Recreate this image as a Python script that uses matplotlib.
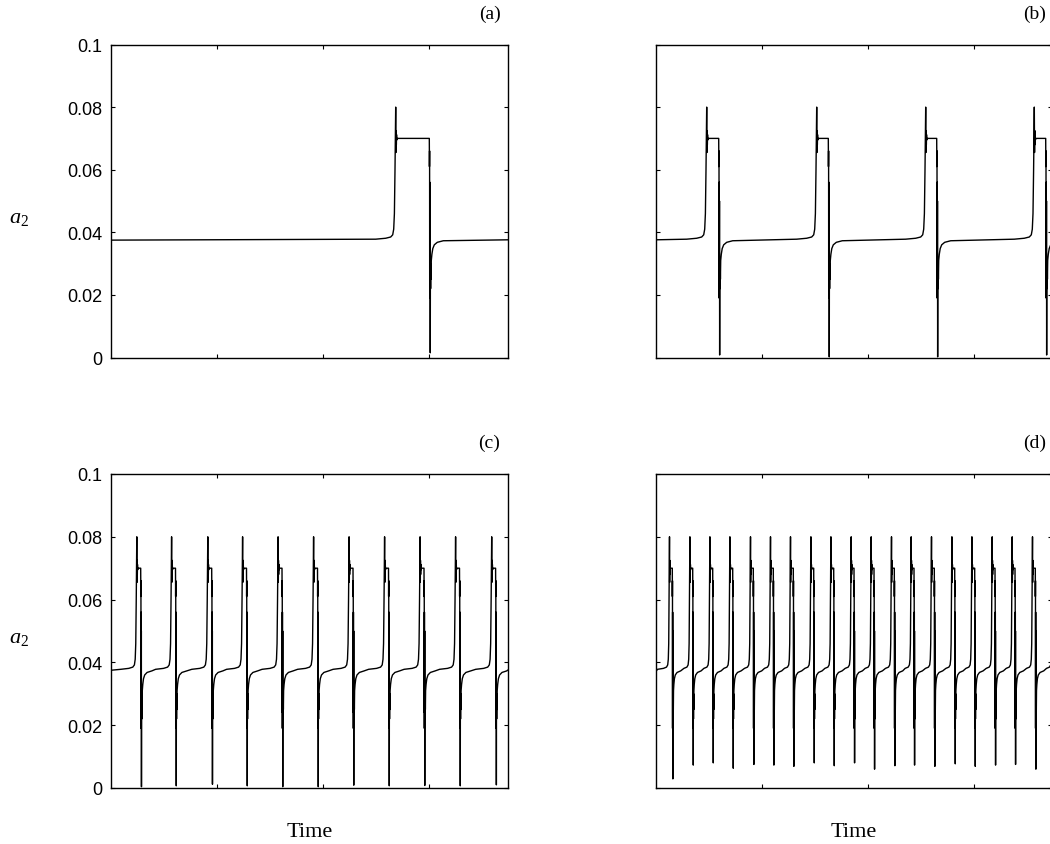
import matplotlib
matplotlib.use("Agg")
import matplotlib.pyplot as plt

plt.rcParams["font.family"] = "Liberation Sans"
plt.rcParams["mathtext.fontset"] = "custom"
plt.rcParams["mathtext.it"] = "Liberation Serif:italic"
plt.rcParams["mathtext.rm"] = "Liberation Serif"

# ---------------- data ----------------
# time axis: 0 .. 396.5 (arbitrary units), ticks every 106
X_MAX = 396.5
X_TICKS = [106, 212, 318]
Y_TICKS = [0, 0.02, 0.04, 0.06, 0.08, 0.1]
Y_TICK_LABELS = ["0", "0.02", "0.04", "0.06", "0.08", "0.1"]

# shape of one burst: rise up to the spike (offsets from spike time)
RISE_DT = [-20, -10, -5, -3, -2, -1.3, -0.7, 0.0, 0.25, 0.45, 0.65, 0.85, 1.1, 1.6]
RISE_VAL = [0.0378, 0.0381, 0.0385, 0.0392, 0.0410, 0.0460, 0.0600, 0.0800,
            0.0655, 0.0725, 0.0680, 0.0712, 0.0695, 0.0700]
# drop after the plateau (offsets from drop time)
DROP_DT = [0.0, 0.15, 0.3, 0.4, 0.55, 0.65, 0.8]
DROP_VAL = [0.0700, 0.0610, 0.0660, 0.0190, 0.0560, 0.0240, 0.0500]
MIN_DT = 0.95
REC_DT = [1.1, 1.3, 1.5, 1.7, 2.0, 2.6, 3.5, 5, 8, 14]
REC_VAL = [0.0290, 0.0220, 0.0300, 0.0250, 0.0310, 0.0330, 0.0348, 0.0360, 0.0368, 0.0373]

# panel (a)
a_spikes = [284.7]
a_drops = [318.3]
a_minima = [0.0015]
# panel (b)
b_spikes = [51.0, 161.0, 270.0, 378.6]
b_drops = [63.0, 172.6, 281.0, 390.0]
b_minima = [0.0008, 0.0002, 0.0002, 0.0008]
# panel (c)
c_spikes = [25.8, 60.6, 96.8, 131.6, 167.1, 202.6, 238.1, 273.6, 309.1, 344.6, 380.7]
c_drops = [29.7, 64.5, 100.7, 135.5, 171.0, 206.5, 242.0, 277.5, 313.0, 348.5, 384.6]
c_minima = [0.0004, 0.0007, 0.0012, 0.0007, 0.0004, 0.0004, 0.0009, 0.0007, 0.0008, 0.0007, 0.0010]
# panel (d)
d_spikes = [13.8, 34.2, 54.2, 74.2, 94.8, 114.8, 134.8, 155.2, 175.2, 195.5,
            215.5, 235.8, 255.5, 275.8, 296.2, 316.2, 336.5, 356.5, 376.8, 396.8]
d_drops = [16.6, 37.0, 57.0, 77.0, 97.6, 117.6, 137.6, 158.0, 178.0, 198.3,
           218.3, 238.6, 258.3, 278.6, 299.0, 319.0, 339.3, 359.3, 379.6, 399.6]
d_minima = [0.0029, 0.0073, 0.0080, 0.0063, 0.0075, 0.0073, 0.0069, 0.0080, 0.0071, 0.0080,
            0.0060, 0.0071, 0.0073, 0.0069, 0.0077, 0.0069, 0.0073, 0.0075, 0.0060, 0.0070]

start_vals = {"a": 0.0375, "b": 0.0376, "c": 0.0375, "d": 0.0370}
end_vals = {"a": 0.0376, "b": 0.0376, "c": 0.0375, "d": 0.0400}


def build(start, end, spikes, drops, minima, scale):
    t = [0.0]
    v = [start]

    def add(tt, vv):
        if tt > t[-1]:
            t.append(tt)
            v.append(vv)

    for s, d, m in zip(spikes, drops, minima):
        for dt, val in zip(RISE_DT, RISE_VAL):
            add(s + dt * scale, val)
        for dt, val in zip(DROP_DT, DROP_VAL):
            add(d + dt * scale, val)
        add(d + MIN_DT * scale, m)
        for dt, val in zip(REC_DT, REC_VAL):
            add(d + dt * scale, val)
    add(X_MAX, end)
    return t, v


W, H = 1050, 845
fig = plt.figure(figsize=(W / 100, H / 100), dpi=100)


def px_axes(l, t, r, b):
    return fig.add_axes([l / W, 1 - b / H, (r - l) / W, (b - t) / H])


panels = [
    ("a", (111, 45.5, 507.5, 358.5), a_spikes, a_drops, a_minima, 1.0),
    ("b", (655.7, 45.5, 1052.2, 358.5), b_spikes, b_drops, b_minima, 1.0),
    ("c", (111, 475, 507.5, 789), c_spikes, c_drops, c_minima, 0.8),
    ("d", (655.7, 475, 1052.2, 789), d_spikes, d_drops, d_minima, 0.6),
]

for name, box, sp, dr, mn, sc in panels:
    ax = px_axes(*box)
    t, v = build(start_vals[name], end_vals[name], sp, dr, mn, sc)
    ax.plot(t, v, color="black", lw=1.0)
    ax.set_xlim(0, X_MAX)
    ax.set_ylim(0, 0.1)
    ax.set_xticks(X_TICKS)
    ax.set_xticklabels([])
    ax.set_yticks(Y_TICKS)
    if name in ("a", "c"):
        ax.set_yticklabels(Y_TICK_LABELS)
    else:
        ax.set_yticklabels([])
    ax.tick_params(direction="in", top=True, right=True, length=3, width=0.8,
                   labelsize=13, pad=6)
    for s in ax.spines.values():
        s.set_linewidth(1.0)
    # panel letter
    fig.text((box[2] - 18) / W, 1 - 14 / H if name in ("a", "b") else 1 - 443 / H,
             "(%s)" % name, family="Liberation Serif", fontsize=14,
             ha="center", va="center")

fig.text(19 / W, 1 - 217 / H, "$a_2$", fontsize=16, ha="center", va="center")
fig.text(19 / W, 1 - 638 / H, "$a_2$", fontsize=16, ha="center", va="center")
fig.text(310 / W, 1 - 833 / H, "Time", family="Liberation Serif", fontsize=16,
         ha="center", va="center")
fig.text(854 / W, 1 - 833 / H, "Time", family="Liberation Serif", fontsize=16,
         ha="center", va="center")

fig.savefig("out.png", dpi=100)
